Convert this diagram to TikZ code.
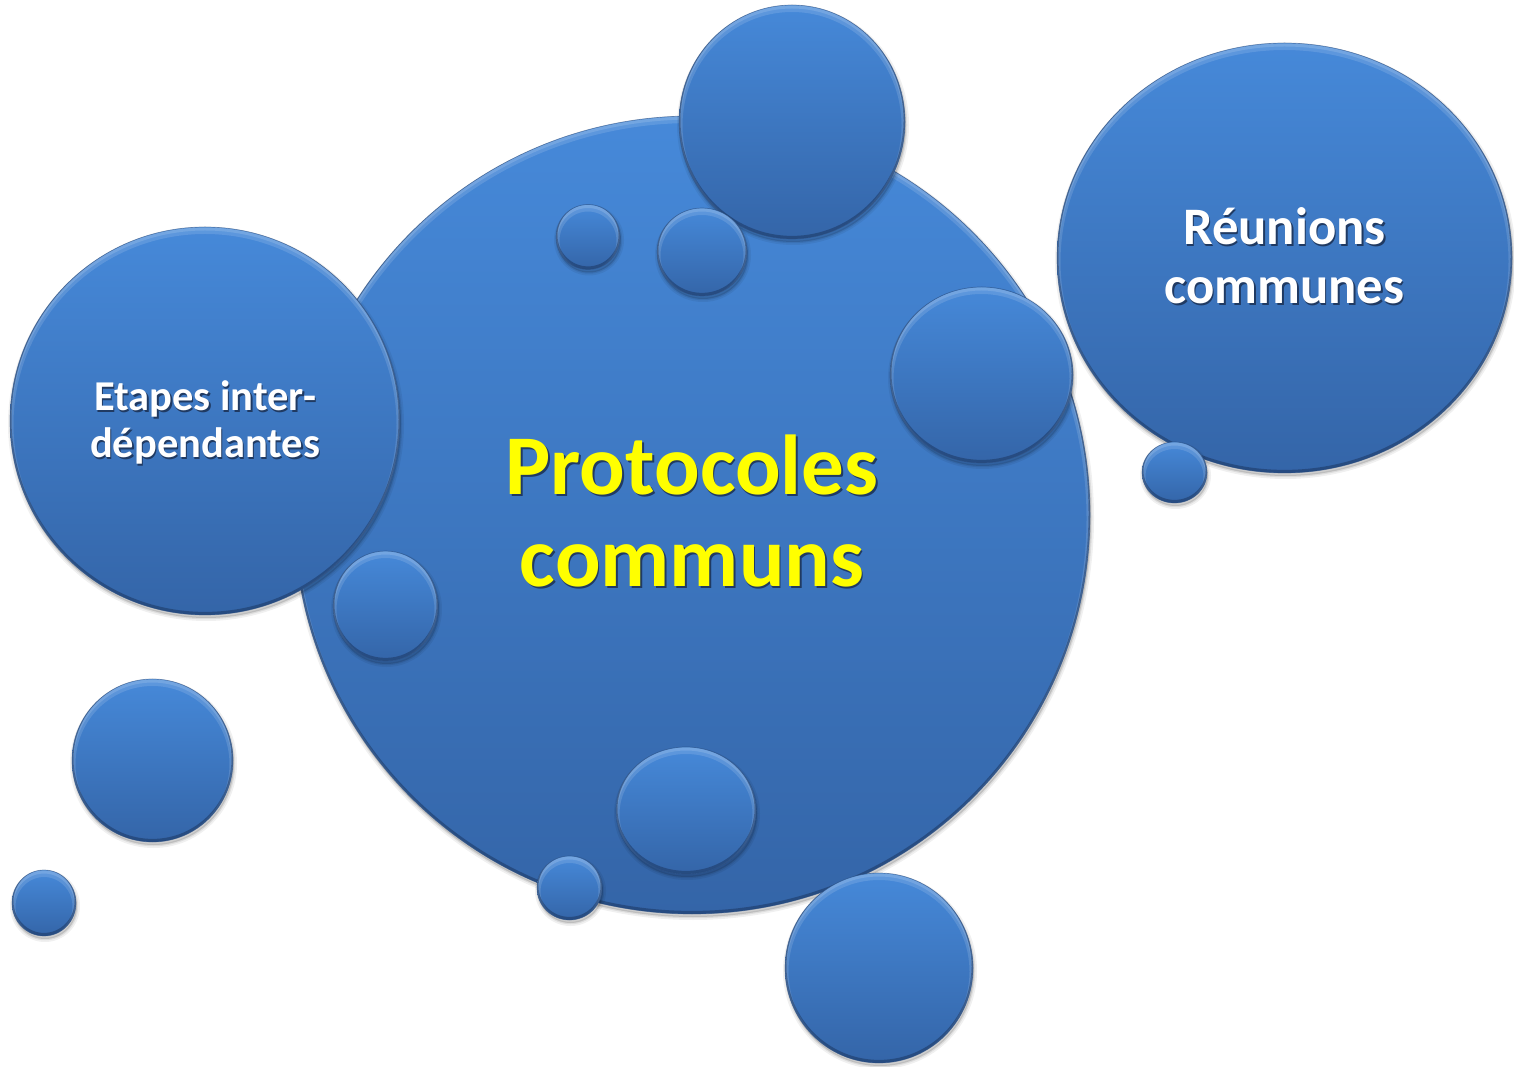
\documentclass[tikz,border=0pt]{standalone}
\usepackage{fontspec}
\setmainfont{Carlito}
\usetikzlibrary{shapes.geometric,shadows}

\definecolor{bubTop}{RGB}{70,137,217}
\definecolor{bubBot}{RGB}{52,101,168}
\definecolor{bubEdge}{RGB}{36,70,120}
\definecolor{rimDark}{RGB}{22,45,82}
\definecolor{txtShadow}{RGB}{32,58,98}
\definecolor{protoYellow}{RGB}{255,255,0}

% text with a soft drop shadow behind it
\newcommand\softtext[1]{\leavevmode\rlap{\hspace{1.5pt}\raisebox{-2pt}{\color{txtShadow}#1}}#1}

\tikzset{
  bubble/.style={ellipse, inner sep=0pt, outer sep=0pt,
    top color=bubTop, bottom color=bubBot,
    draw=bubEdge, draw opacity=0.45, line width=0.7pt,
    general shadow={shadow xshift=1pt, shadow yshift=-3pt, fill=black, fill opacity=0.06,
      draw=black, draw opacity=0.06, line width=6pt},
    general shadow={shadow xshift=1pt, shadow yshift=-3pt, fill=black, fill opacity=0.08,
      draw=black, draw opacity=0.08, line width=2.5pt},
  },
  bubtext/.style={align=center, font=\bfseries},
}

% one bevelled bubble: name, x, y, width, height, label
\newcommand\bubble[6]{%
  \node[bubble, minimum width=#4pt, minimum height=#5pt,
    path picture={
      \draw[white, opacity=0.13, line width=7pt]
        ([yshift=-3.5pt]path picture bounding box.center) ellipse [x radius=#4pt/2, y radius=#5pt/2];
      \draw[white, opacity=0.14, line width=3pt]
        ([yshift=-2pt]path picture bounding box.center) ellipse [x radius=#4pt/2, y radius=#5pt/2];
      \draw[rimDark, opacity=0.45, line width=3pt]
        ([yshift=1.6pt]path picture bounding box.center) ellipse [x radius=#4pt/2, y radius=#5pt/2];
    }] (#1) at (#2,#3) {#6};}

\begin{document}
\begin{tikzpicture}[x=1pt, y=1pt]
\useasboundingbox[fill=white] (0,0) rectangle (1514,1066);

% central bubble
\bubble{proto}{692}{551}{796}{798}{}
\node[bubtext, text=protoYellow, font=\fontsize{85}{92}\selectfont\bfseries]
  (protoLabel) at ([yshift=3pt]proto.center) {\softtext{Protocoles}\\\softtext{communs}};

% bubbles over the upper rim
\bubble{topBig}{792}{944}{226}{234}{}
\bubble{topSmallA}{588}{829}{64}{65}{}
\bubble{topSmallB}{702}{814}{90}{88}{}

% left bubble
\bubble{etapes}{205}{645}{390}{388}{}
\node[bubtext, text=white, font=\fontsize{42.5}{47}\selectfont\bfseries]
  (etapesLabel) at ([yshift=-2pt]etapes.center) {\softtext{Etapes inter-}\\\softtext{dépendantes}};
\bubble{leftMid}{385.5}{460}{105}{110}{}

% right-side bubbles
\bubble{rightMid}{981.5}{691}{183}{176}{}
\bubble{reunions}{1284.5}{808}{455}{430}{}
\node[bubtext, text=white, font=\fontsize{52.7}{59}\selectfont\bfseries]
  (reunionsLabel) at ([yshift=1pt]reunions.center) {\softtext{Réunions}\\\softtext{communes}};
\bubble{rightSmall}{1174.5}{593.5}{65}{61}{}

% lower-left bubbles
\bubble{lowLeftBig}{152.5}{305.5}{161}{163}{}
\bubble{lowLeftSmall}{44}{163}{64}{66}{}

% bubbles along the lower rim
\bubble{bottomMid}{686}{255.5}{140}{127}{}
\bubble{bottomSmall}{569.5}{178}{65}{64}{}
\bubble{bottomBig}{879}{98}{188}{190}{}
\end{tikzpicture}
\end{document}
